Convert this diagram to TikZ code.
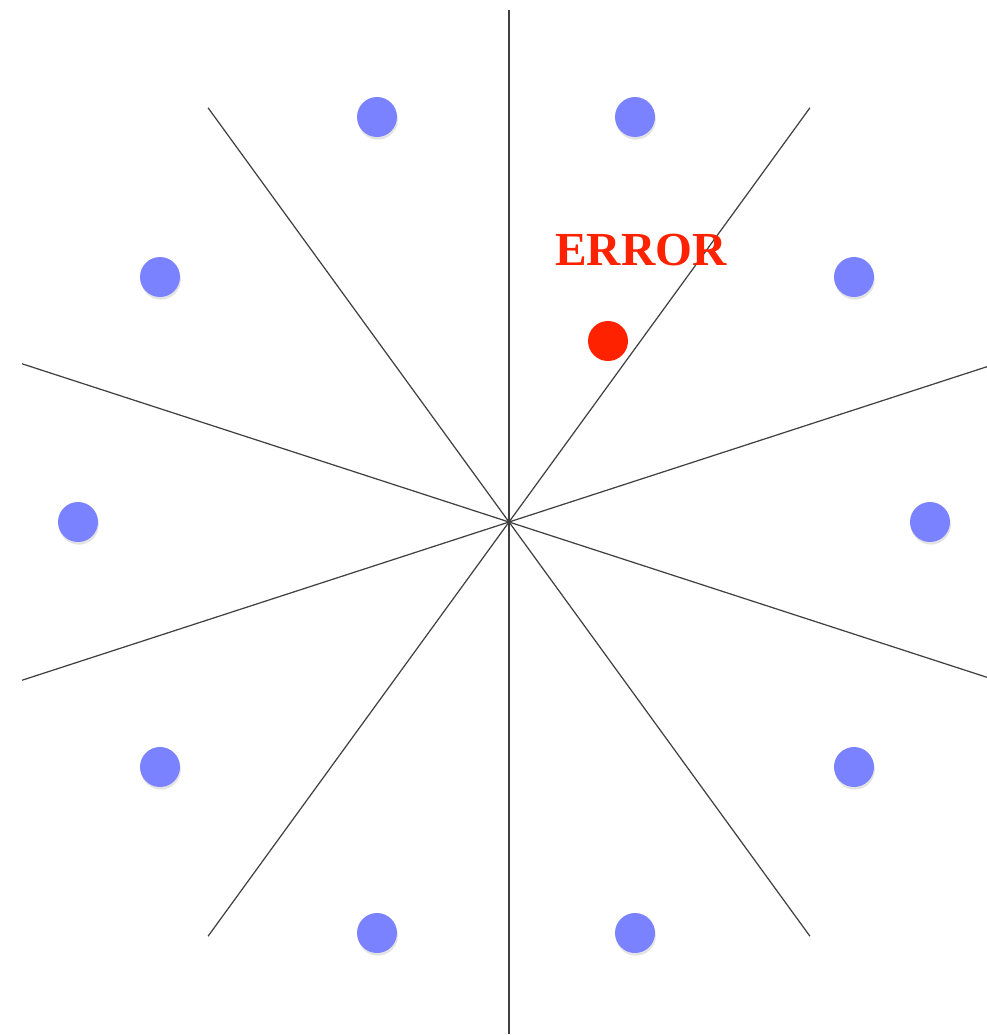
\documentclass[tikz,border=0pt]{standalone}
\usepackage{fontspec}
\setmainfont{Liberation Serif}
\usetikzlibrary{shadows}
\definecolor{dotblue}{RGB}{122,130,255}
\definecolor{errred}{RGB}{255,34,0}

\begin{document}
\begin{tikzpicture}[x=0.02cm, y=-0.02cm,
  ray/.style={draw=black!75, line width=0.7pt},
  dot/.style={circle, fill=dotblue, minimum size=0.8cm, inner sep=0pt,
    drop shadow={shadow xshift=0.5pt, shadow yshift=-1.5pt, opacity=0.22}},
  errdot/.style={circle, fill=errred, minimum size=0.8cm, inner sep=0pt}]
  \useasboundingbox (0,0) rectangle (987,1035);
  \clip (0,0) rectangle (987,1035);
  \coordinate (o) at (509,522);
  % sector borders
  \foreach \a in {18,54,90,126,162}
    \draw[ray] (o) -- ++(\a:512) (o) -- ++(\a+180:512);
  % constellation points
  \node[dot] (p1) at (930,522) {};
  \node[dot] (p2) at (854,277) {};
  \node[dot] (p3) at (635,117) {};
  \node[dot] (p4) at (377,117) {};
  \node[dot] (p5) at (160,277) {};
  \node[dot] (p6) at (78,522) {};
  \node[dot] (p7) at (160,767) {};
  \node[dot] (p8) at (377,933) {};
  \node[dot] (p9) at (635,933) {};
  \node[dot] (p10) at (854,767) {};
  % received point
  \node[errdot] (rx) at (608,341) {};
  \node[text=errred, font=\fontsize{27}{32}\selectfont\bfseries] (err) at (641,250) {ERROR};
\end{tikzpicture}
\end{document}
